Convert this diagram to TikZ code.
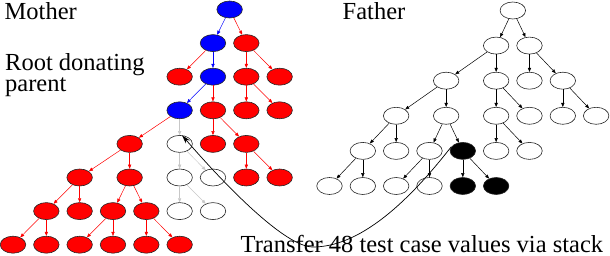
\documentclass[tikz,border=0pt]{standalone}
\usepackage{fontspec}
\setmainfont{Liberation Serif}
\usetikzlibrary{shapes.geometric, arrows.meta}

\begin{document}
\begin{tikzpicture}[x=1pt, y=-1pt,
        treenode/.style={ellipse, draw=black!85, line width=0.6pt,
            minimum width=25.5pt, minimum height=17pt, inner sep=0pt},
        rednode/.style={treenode, fill=red},
        bluenode/.style={treenode, fill=blue},
        blanknode/.style={treenode, fill=white},
        blacknode/.style={treenode, fill=black},
        treeedge/.style={line width=0.5pt, -{Triangle[length=4pt, width=3.2pt]}},
        plaintext/.style={font=\fontsize{24.5}{21}\selectfont, inner sep=0pt}
    ]
        \useasboundingbox (0,0) rectangle (610,256);

        % Mother: column step 33.33, row step 33.6
        \begin{scope}[shift={(13pt,-9.5pt)}, x=33.33pt, y=-33.6pt]
            \node[bluenode]  (M00) at (6.5,0) {};     % root
            \node[bluenode]  (M10) at (6,1) {};
            \node[rednode]   (M11) at (7,1) {};
            \node[rednode]   (M20) at (5,2) {};
            \node[bluenode]  (M21) at (6,2) {};
            \node[rednode]   (M22) at (7,2) {};
            \node[rednode]   (M23) at (8,2) {};
            \node[bluenode]  (M30) at (5,3) {};       % donating parent
            \node[rednode]   (M31) at (6,3) {};
            \node[rednode]   (M32) at (7,3) {};
            \node[rednode]   (M33) at (8,3) {};
            \node[rednode]   (M40) at (3.5,4) {};
            \node[blanknode] (M41) at (5,4) {};       % replaced subtree
            \node[rednode]   (M42) at (6,4) {};
            \node[rednode]   (M43) at (7,4) {};
            \node[rednode]   (M50) at (2,5) {};
            \node[rednode]   (M51) at (3.5,5) {};
            \node[blanknode] (M52) at (5,5) {};
            \node[blanknode] (M53) at (6,5) {};
            \node[rednode]   (M54) at (7,5) {};
            \node[rednode]   (M55) at (8,5) {};
            \node[rednode]   (M60) at (1,6) {};
            \node[rednode]   (M61) at (2,6) {};
            \node[rednode]   (M62) at (3,6) {};
            \node[rednode]   (M63) at (4,6) {};
            \node[blanknode] (M64) at (5,6) {};
            \node[blanknode] (M65) at (6,6) {};
            \foreach \i in {0,...,5} {
                \node[rednode] (M7\i) at (\i,7) {};
            }
        \end{scope}

        \foreach \a/\b in {M00/M10, M10/M21, M21/M30}
            \draw[treeedge, blue] (\a) -- (\b);
        \foreach \a/\b in {M00/M11, M10/M20, M11/M22, M11/M23, M21/M31, M22/M32,
                M22/M33, M30/M40, M31/M42, M31/M43, M40/M50, M40/M51, M43/M54,
                M43/M55, M50/M60, M50/M61, M51/M62, M51/M63, M60/M70, M60/M71,
                M62/M72, M62/M73, M63/M74, M63/M75}
            \draw[treeedge, red] (\a) -- (\b);
        \foreach \a/\b in {M30/M41, M41/M52, M41/M53, M52/M64, M52/M65}
            \draw[treeedge, black!22] (\a) -- (\b);

        % Father: column step 33.33, row step 35.1
        \begin{scope}[shift={(329.5pt,-10.5pt)}, x=33.33pt, y=-35.1pt]
            \node[blanknode] (F00) at (5.5,0) {};
            \node[blanknode] (F10) at (5,1) {};
            \node[blanknode] (F11) at (6,1) {};
            \node[blanknode] (F20) at (3.5,2) {};
            \node[blanknode] (F21) at (5,2) {};
            \node[blanknode] (F22) at (6,2) {};
            \node[blanknode] (F23) at (7,2) {};
            \node[blanknode] (F30) at (2,3) {};
            \node[blanknode] (F31) at (3.5,3) {};
            \node[blanknode] (F32) at (5,3) {};
            \node[blanknode] (F33) at (6,3) {};
            \node[blanknode] (F34) at (7,3) {};
            \node[blanknode] (F35) at (8,3) {};
            \node[blanknode] (F40) at (1,4) {};
            \node[blanknode] (F41) at (2,4) {};
            \node[blanknode] (F42) at (3,4) {};
            \node[blacknode] (F43) at (4,4) {};       % donated subtree
            \node[blanknode] (F44) at (5,4) {};
            \node[blanknode] (F45) at (6,4) {};
            \node[blanknode] (F50) at (0,5) {};
            \node[blanknode] (F51) at (1,5) {};
            \node[blanknode] (F52) at (2,5) {};
            \node[blanknode] (F53) at (3,5) {};
            \node[blacknode] (F54) at (4,5) {};
            \node[blacknode] (F55) at (5,5) {};
        \end{scope}

        \foreach \a/\b in {F00/F10, F00/F11, F10/F20, F10/F21, F11/F22, F11/F23,
                F20/F30, F20/F31, F21/F32, F21/F33, F23/F34, F23/F35, F30/F40,
                F30/F41, F31/F42, F31/F43, F32/F44, F32/F45, F40/F50, F40/F51,
                F42/F52, F42/F53, F43/F54, F43/F55}
            \draw[treeedge, black] (\a) -- (\b);

        % labels
        \node[plaintext, anchor=base west] (mother) at (4.5,19.5) {Mother};
        \node[plaintext, anchor=base west] (father) at (342.5,20) {Father};
        \node[plaintext, anchor=north west, align=left] (donor) at (5,53)
            {Root donating\\parent};
        \node[plaintext, anchor=base west] (transfer) at (240.5,252.5)
            {Transfer 48 test case values via stack};

        % transfer arrow
        \coordinate (dip) at (313,247);
        \draw[line width=0.7pt, -{Stealth[length=9pt, width=5pt]}]
            (F43.160) .. controls (425,180) and (370,247) .. (dip)
            .. controls (285,247) and (225,185) .. (M41.75);
    \end{tikzpicture}
\end{document}
